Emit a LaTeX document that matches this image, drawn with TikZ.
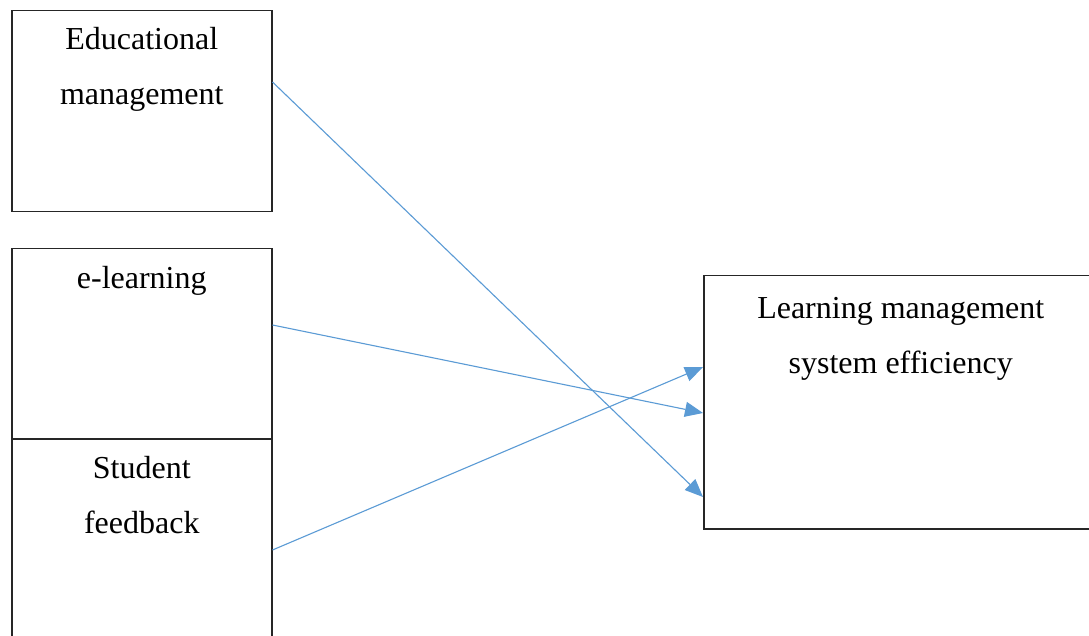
\documentclass[tikz,border=0pt]{standalone}
\usepackage{fontspec}
\setmainfont{Liberation Serif}
\usetikzlibrary{arrows.meta,positioning,calc}
\definecolor{linkblue}{HTML}{5B9BD5}

\begin{document}
\begin{tikzpicture}[x=1pt,y=-1pt,
  box/.style={draw=black!85,line width=1.5pt,minimum width=260pt,anchor=north west,inner sep=0pt},
  lbl/.style={font=\fontsize{32}{55}\selectfont,align=center,anchor=base,inner sep=0pt},
  link/.style={draw=linkblue,line width=1.1pt,-{Triangle[length=18pt,width=15pt]}}]
  \clip (0,0) rectangle (1089,636);
  \fill[white] (0,0) rectangle (1089,636);
  % left boxes
  \node[box,minimum height=201pt] (edu) at (11,10) {};
  \node[box,minimum height=190pt] (elearn) at (11,248) {};
  \node[box,minimum height=220pt] (feedback) at (11,438) {};
  % right box
  \node[box,minimum width=394pt,minimum height=253pt] (lms) at (703,275) {};
  % labels (base = last line)
  \node[lbl] (edutxt) at ($(edu.north)+(0,95)$) {Educational\\management};
  \node[lbl] (elearntxt) at ($(elearn.north)+(0,40)$) {e-learning};
  \node[lbl] (feedbacktxt) at ($(feedback.north)+(0,95)$) {Student\\feedback};
  \node[lbl] (lmstxt) at ($(lms.north)+(0,98)$) {Learning management\\system efficiency};
  % links
  \draw[link] ($(edu.north east)+(0,72)$) -- ($(lms.north west)+(0,222)$);
  \draw[link] ($(elearn.north east)+(0,77)$) -- ($(lms.north west)+(0,138)$);
  \draw[link] ($(feedback.north east)+(0,112)$) -- ($(lms.north west)+(0,92)$);
\end{tikzpicture}
\end{document}
